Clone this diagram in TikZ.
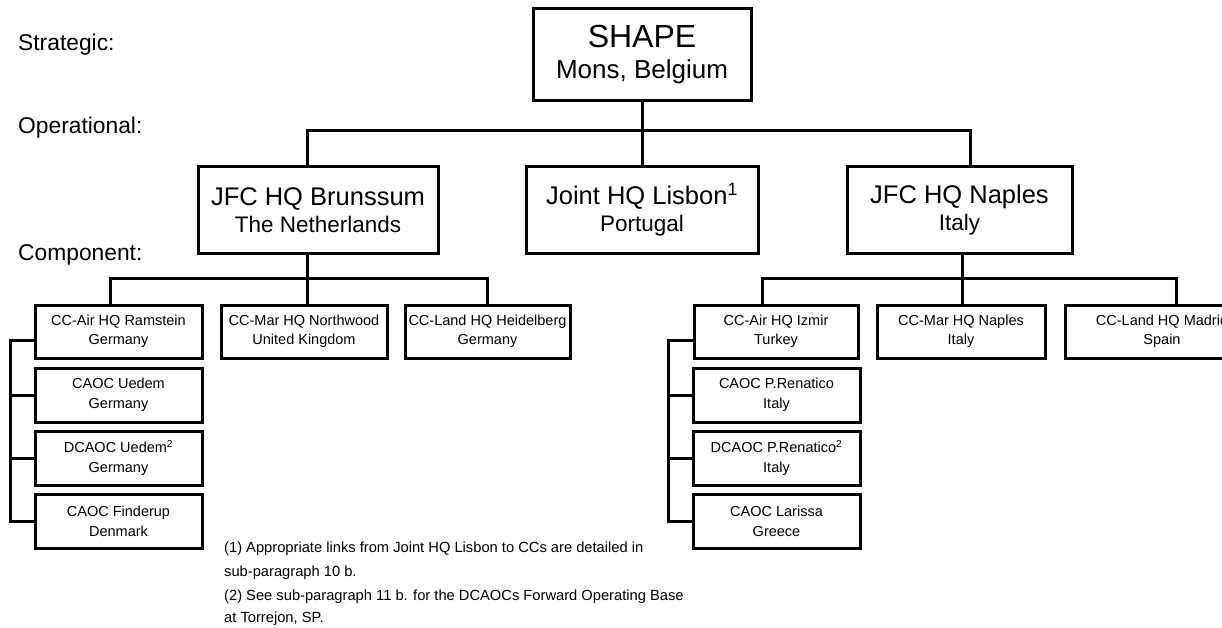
\documentclass[tikz,border=0pt]{standalone}
\usepackage{fontspec}
\setmainfont{Liberation Sans}
\begin{document}
\begin{tikzpicture}[x=1pt,y=-1pt,
  box/.style={draw, line width=3pt, inner sep=0pt, align=center},
  conn/.style={line width=3pt},
  lvl/.style={anchor=west, inner sep=0pt, font=\fontsize{22.8}{26}\selectfont},
  small/.style={font=\fontsize{14.5}{19}\selectfont},
  sub/.style={font=\fontsize{14.5}{20}\selectfont},
  note/.style={anchor=west, inner sep=0pt, font=\fontsize{14.7}{18}\selectfont},
  cbox/.style={box, small, minimum width=167pt, minimum height=53pt},
  sbox/.style={box, sub, minimum width=167pt, minimum height=54pt},
  opbox/.style={box, minimum height=86pt},
]
\useasboundingbox (0,0) rectangle (1222,628);
\clip (0,0) rectangle (1222,628);
\fill[white] (0,0) rectangle (1222,628);

% level labels
\node[lvl] (lstr) at (18,45) {Strategic:};
\node[lvl] (lop) at (18,128) {Operational:};
\node[lvl] (lcomp) at (18,255) {Component:};

% strategic
\node[box, minimum width=218pt, minimum height=92pt, font=\fontsize{26}{31}\selectfont] (shape) at (642,55)
  {{\fontsize{32}{32}\selectfont SHAPE}\\Mons, Belgium};

% operational
\node[opbox, minimum width=240pt, font=\fontsize{22.5}{27}\selectfont] (bru) at (318,210)
  {{\fontsize{25.5}{27}\selectfont JFC HQ Brunssum}\\The Netherlands};
\node[opbox, minimum width=232pt, font=\fontsize{22.5}{27}\selectfont] (lis) at (642,210)
  {{\fontsize{25.5}{27}\selectfont Joint HQ Lisbon\textsuperscript{1}}\\Portugal};
\node[opbox, minimum width=225pt, font=\fontsize{22.5}{27}\selectfont] (nap) at (959.5,210)
  {{\fontsize{25.5}{27}\selectfont JFC HQ Naples}\\Italy};

% component, north
\node[cbox] (ram) at (118.5,331.5) {CC-Air HQ Ramstein\\Germany};
\node[cbox, minimum width=166pt] (nor) at (304,331.5) {CC-Mar HQ Northwood\\United Kingdom};
\node[cbox, minimum width=165pt] (hei) at (487.5,331.5) {CC-Land HQ Heidelberg\\Germany};
\node[sbox] (ued) at (118.5,395) {CAOC Uedem\\Germany};
\node[sbox] (dued) at (118.5,458) {DCAOC Uedem\textsuperscript{2}\\Germany};
\node[sbox] (fin) at (118.5,521) {CAOC Finderup\\Denmark};

% component, south
\node[cbox, minimum width=164pt] (izm) at (776,331.5) {CC-Air HQ Izmir\\Turkey};
\node[cbox, minimum width=168pt] (mar) at (961,331.5) {CC-Mar HQ Naples\\Italy};
\node[cbox, minimum width=194pt] (mad) at (1162,331.5) {CC-Land HQ Madrid\\Spain};
\node[sbox] (ren) at (776.5,395) {CAOC P.Renatico\\Italy};
\node[sbox] (dren) at (776.5,458) {DCAOC P.Renatico\textsuperscript{2}\\Italy};
\node[sbox] (lar) at (776.5,521) {CAOC Larissa\\Greece};

% connectors: strategic to operational
\draw[conn] (shape.south) -- (lis.north);
\draw[conn] ([xshift=-11pt]bru.north) -- ++(0,-35) -| ([xshift=10.5pt]nap.north);

% Brunssum to its CCs
\draw[conn] ([xshift=-11pt]bru.south) -- ([xshift=-11pt]bru.south |- nor.north);
\draw[conn] ([xshift=-8.5pt]ram.north) -- ++(0,-25) -| (hei.north);

% Naples to its CCs
\draw[conn] ([xshift=2.5pt]nap.south) -- ([xshift=2.5pt]nap.south |- mar.north);
\draw[conn] ([xshift=-14pt]izm.north) -- ++(0,-25) -| ([xshift=14pt]mad.north);

% air brackets
\draw[conn] ([yshift=-8.5pt]ram.west) -- ++(-23,0) |- (fin.west);
\draw[conn] (ued.west) -- ++(-23,0);
\draw[conn] (dued.west) -- ++(-23,0);
\draw[conn] ([yshift=-8.5pt]izm.west) -- ++(-24,0) |- (lar.west);
\draw[conn] (ren.west) -- ++(-23,0);
\draw[conn] (dren.west) -- ++(-23,0);

% footnotes
\node[note] (n1) at (224,549) {(1) Appropriate links from Joint HQ Lisbon to CCs are detailed in};
\node[note] (n2) at (224,573) {sub-paragraph 10 b.};
\node[note] (n3) at (224,597) {(2) See sub-paragraph 11 b. for the DCAOCs Forward Operating Base};
\node[note] (n4) at (224,619) {at Torrejon, SP.};
\end{tikzpicture}
\end{document}
